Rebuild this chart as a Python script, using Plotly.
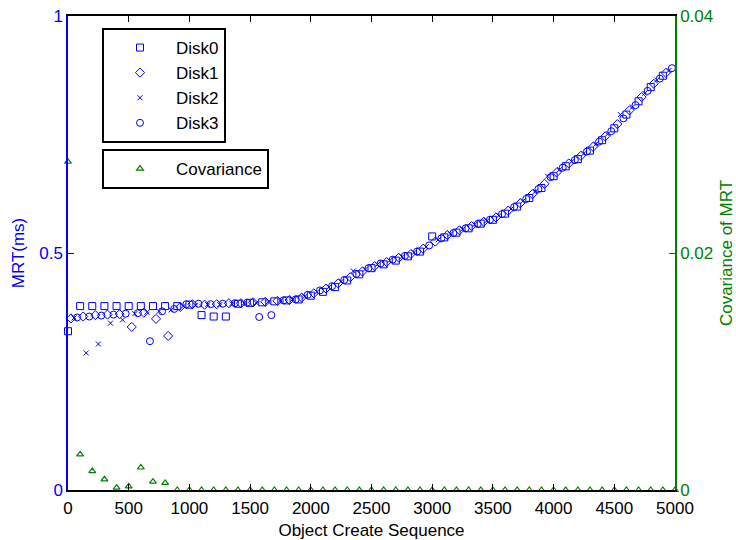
import plotly.graph_objects as go

# ---- data ----
disk0_x = list(range(0, 5000, 100))
disk0_y = [0.335, 0.388, 0.388, 0.388, 0.388, 0.388, 0.388, 0.388, 0.388, 0.388,
           0.391, 0.369, 0.366, 0.366, 0.393, 0.395, 0.396, 0.398, 0.400, 0.402,
           0.410, 0.418, 0.428, 0.442, 0.455, 0.468, 0.476, 0.484, 0.493, 0.503,
           0.535, 0.533, 0.543, 0.552, 0.562, 0.570, 0.583, 0.598, 0.616, 0.637,
           0.662, 0.683, 0.698, 0.716, 0.738, 0.763, 0.792, 0.820, 0.850, 0.874]

disk1_x = list(range(25, 5000, 100))
disk1_y = [0.362, 0.366, 0.369, 0.370, 0.371, 0.344, 0.374, 0.361, 0.325, 0.386,
           0.392, 0.391, 0.392, 0.394, 0.394, 0.396, 0.397, 0.399, 0.401, 0.406,
           0.415, 0.425, 0.436, 0.449, 0.461, 0.472, 0.481, 0.490, 0.498, 0.509,
           0.524, 0.538, 0.548, 0.557, 0.566, 0.575, 0.589, 0.605, 0.624, 0.646,
           0.670, 0.689, 0.705, 0.724, 0.746, 0.772, 0.801, 0.829, 0.857, 0.880]

disk2_x = list(range(50, 5000, 100))
disk2_y = [0.363, 0.289, 0.308, 0.352, 0.359, 0.372, 0.375, 0.377, 0.380, 0.388,
           0.390, 0.391, 0.391, 0.393, 0.394, 0.395, 0.397, 0.399, 0.402, 0.408,
           0.418, 0.428, 0.440, 0.462, 0.466, 0.476, 0.484, 0.492, 0.501, 0.513,
           0.528, 0.540, 0.550, 0.560, 0.568, 0.579, 0.593, 0.610, 0.630, 0.662,
           0.676, 0.693, 0.710, 0.730, 0.752, 0.792, 0.808, 0.837, 0.865, 0.885]

disk3_x = list(range(75, 5000, 100))
disk3_y = [0.364, 0.366, 0.368, 0.370, 0.372, 0.373, 0.314, 0.377, 0.382, 0.392,
           0.393, 0.392, 0.393, 0.394, 0.395, 0.365, 0.369, 0.400, 0.402, 0.412,
           0.421, 0.430, 0.443, 0.456, 0.468, 0.478, 0.486, 0.494, 0.503, 0.516,
           0.531, 0.542, 0.552, 0.561, 0.570, 0.582, 0.597, 0.614, 0.635, 0.660,
           0.680, 0.696, 0.714, 0.735, 0.757, 0.784, 0.812, 0.842, 0.868, 0.890]

cov_x = list(range(0, 5001, 100))
cov_y = [0.0277, 0.0030, 0.0016, 0.0009, 0.0002, 0.0003, 0.0019, 0.0007, 0.0006] + [0.0] * 42

x_ticks = list(range(0, 5001, 500))
y_ticks = [0, 0.5, 1]
y2_ticks = [0, 0.02, 0.04]
y2_labels = ["0", "0.02", "0.04"]

BLUE = "#0000FF"
GREEN = "#008000"
FONT = "Liberation Sans, Arial, sans-serif"
FS = 17

fig = go.Figure()

disks = [
    ("Disk0", disk0_x, disk0_y, "square-open", 7),
    ("Disk1", disk1_x, disk1_y, "diamond-open", 7),
    ("Disk2", disk2_x, disk2_y, "x-thin-open", 5),
    ("Disk3", disk3_x, disk3_y, "circle-open", 7),
]
for name, xs, ys, sym, sz in disks:
    fig.add_trace(go.Scatter(
        x=xs, y=ys, mode="markers", name=name,
        marker=dict(symbol=sym, size=sz, color=BLUE, line=dict(color=BLUE, width=1)),
        cliponaxis=False, legend="legend",
    ))

fig.add_trace(go.Scatter(
    x=cov_x, y=cov_y, mode="markers", name="Covariance", yaxis="y2",
    marker=dict(symbol="triangle-up-open", size=6, color=GREEN, line=dict(color=GREEN, width=1.2)),
    cliponaxis=False, legend="legend2",
))

fig.update_layout(
    width=736, height=540,
    margin=dict(l=68, r=61, t=16, b=50, autoexpand=False),
    paper_bgcolor="white", plot_bgcolor="white",
    font=dict(family=FONT, size=FS, color="black"),
    xaxis=dict(
        range=[0, 5000], tickvals=x_ticks, ticktext=[str(v) for v in x_ticks],
        ticks="inside", ticklen=6, tickcolor="black", showline=True, linecolor="black",
        linewidth=1.5, mirror="ticks", showgrid=False, zeroline=False, automargin=False,
        tickfont=dict(size=FS, color="black"), ticklabelstandoff=2,
        title=dict(text="Object Create Sequence", font=dict(size=FS, color="black"), standoff=8),
    ),
    yaxis=dict(
        range=[0, 1], tickvals=y_ticks, ticktext=["0", "0.5", "1"],
        ticks="inside", ticklen=6, tickcolor=BLUE, showline=True, linecolor=BLUE,
        linewidth=1.5, showgrid=False, zeroline=False, automargin=False,
        tickfont=dict(size=FS, color=BLUE),
        title=dict(text="MRT(ms)", font=dict(size=FS, color=BLUE), standoff=10),
    ),
    yaxis2=dict(
        range=[0, 0.04], tickvals=y2_ticks, ticktext=y2_labels, overlaying="y", side="right",
        ticks="inside", ticklen=6, tickcolor=GREEN, showline=True, linecolor=GREEN,
        linewidth=1.5, showgrid=False, zeroline=False, automargin=False,
        tickfont=dict(size=FS, color=GREEN),
        title=dict(text="Covariance of MRT", font=dict(size=FS, color=GREEN), standoff=8),
    ),
    legend=dict(
        x=(102 - 68) / 607, y=(490 - 28) / 474, xanchor="left", yanchor="top",
        bordercolor="black", borderwidth=2, bgcolor="white",
        font=dict(size=FS), itemwidth=62,
    ),
    legend2=dict(
        x=(102 - 68) / 607, y=(490 - 149) / 474, xanchor="left", yanchor="top",
        bordercolor="black", borderwidth=2, bgcolor="white",
        font=dict(size=FS), itemwidth=62,
    ),
)

fig.write_html("out.html")
